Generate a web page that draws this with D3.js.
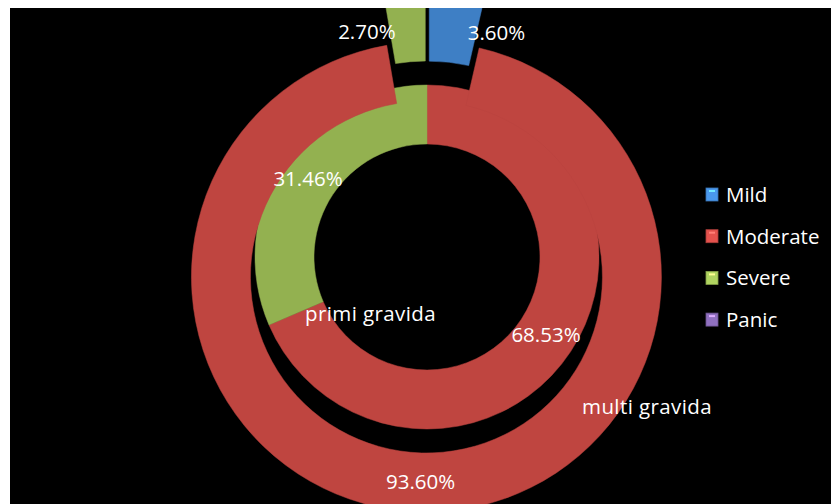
<!DOCTYPE html>
<meta charset="utf-8">
<title>Anxiety levels - primi / multi gravida</title>
<script src="https://d3js.org/d3.v7.min.js"></script>
<style>
  body { margin: 0; background: #fff; }
  text { font-family: 'Open Sans', sans-serif; fill: #fff; }
  text.val { font-size: 20.5px; text-anchor: middle; }
  text.series { font-size: 20.5px; letter-spacing: 0.4px; }
  text.legend { font-size: 20.5px; }
</style>
<div id="chart"></div>
<script>
// categories and values (percent)
var categories = ["Mild", "Moderate", "Severe", "Panic"];
var colors = ["#4a98ec", "#e4524d", "#b0d460", "#9070c0"];
var primiGravida = [0, 68.53, 31.46, 0];   // inner ring
var multiGravida = [3.60, 93.60, 2.70, 0]; // outer ring (exploded)
var seriesNames = ["primi gravida", "multi gravida"];

var W = 831, H = 504;
var cx = 427, cy = 257;
var explode = 20;

var svg = d3.select("#chart").append("svg")
    .attr("width", W).attr("height", H);

var defs = svg.append("defs");
defs.append("clipPath").attr("id", "plot")
  .append("rect").attr("x", 10).attr("y", 8).attr("width", W - 10).attr("height", H - 8);

svg.append("rect")
    .attr("x", 10).attr("y", 8)
    .attr("width", W - 10).attr("height", H - 8)
    .attr("fill", "#000");

var plot = svg.append("g").attr("clip-path", "url(#plot)");

var pie = d3.pie().sort(null).value(function(d) { return d; });

var rings = [
  { data: primiGravida, r0: 113, r1: 172, explode: 0 },
  { data: multiGravida, r0: 176, r1: 235, explode: explode }
];

var gradId = 0;
function bevel(color, x, y, r0, r1) {
  var id = "g" + (gradId++);
  var c = d3.color(color);
  var g = defs.append("radialGradient").attr("id", id)
      .attr("gradientUnits", "userSpaceOnUse")
      .attr("cx", x).attr("cy", y).attr("r", r1);
  var k = r0 / r1;
  g.append("stop").attr("offset", k).attr("stop-color", c.darker(0.3));
  g.append("stop").attr("offset", k + (1 - k) * 0.07).attr("stop-color", c.brighter(0.4));
  g.append("stop").attr("offset", k + (1 - k) * 0.25).attr("stop-color", c);
  g.append("stop").attr("offset", k + (1 - k) * 0.85).attr("stop-color", c.darker(0.1));
  g.append("stop").attr("offset", 1).attr("stop-color", c.darker(0.5));
  return "url(#" + id + ")";
}

rings.forEach(function(ring, ri) {
  var arc = d3.arc().innerRadius(ring.r0).outerRadius(ring.r1);
  var slices = pie(ring.data).filter(function(s) { return s.value > 0; });
  slices.forEach(function(s) {
    var mid = (s.startAngle + s.endAngle) / 2;
    var ox = cx + ring.explode * Math.sin(mid);
    var oy = cy - ring.explode * Math.cos(mid);
    var g = plot.append("g").attr("transform", "translate(" + ox + "," + oy + ")");
    g.append("path")
      .attr("d", arc(s))
      .attr("fill", bevel(colors[s.index], ox, oy, ring.r0, ring.r1))
      .attr("stroke", d3.color(colors[s.index]).darker(0.6))
      .attr("stroke-width", 0.5);

    // value label at the centroid; thin slices get their label pushed to the side
    var c = arc.centroid(s);
    var pct = s.value / d3.sum(ring.data);
    var shift = pct < 0.05 ? (Math.sin(mid) > 0 ? 44 : -41) : 0;
    svg.append("text")
      .attr("class", "val")
      .attr("x", ox + c[0] + shift)
      .attr("y", oy + c[1] + 7)
      .text(s.value.toFixed(2) + "%");
  });
});

// series names
svg.append("text").attr("class", "series")
    .attr("x", cx - 122).attr("y", cy + 64)
    .text(seriesNames[0]);
svg.append("text").attr("class", "series")
    .attr("x", cx + 155).attr("y", cy + 157)
    .text(seriesNames[1]);

// legend
var legend = svg.append("g").attr("transform", "translate(706,202)");
categories.forEach(function(name, i) {
  var row = legend.append("g").attr("transform", "translate(0," + (i * 41.7) + ")");
  row.append("rect")
    .attr("x", 0).attr("y", -14).attr("width", 12).attr("height", 13)
    .attr("fill", colors[i])
    .attr("stroke", d3.color(colors[i]).darker(0.8)).attr("stroke-width", 0.8);
  row.append("rect")
    .attr("x", 3).attr("y", -12).attr("width", 6).attr("height", 2)
    .attr("fill", d3.color(colors[i]).brighter(1.2));
  row.append("text").attr("class", "legend")
    .attr("x", 20).attr("y", 0)
    .text(name);
});
</script>
